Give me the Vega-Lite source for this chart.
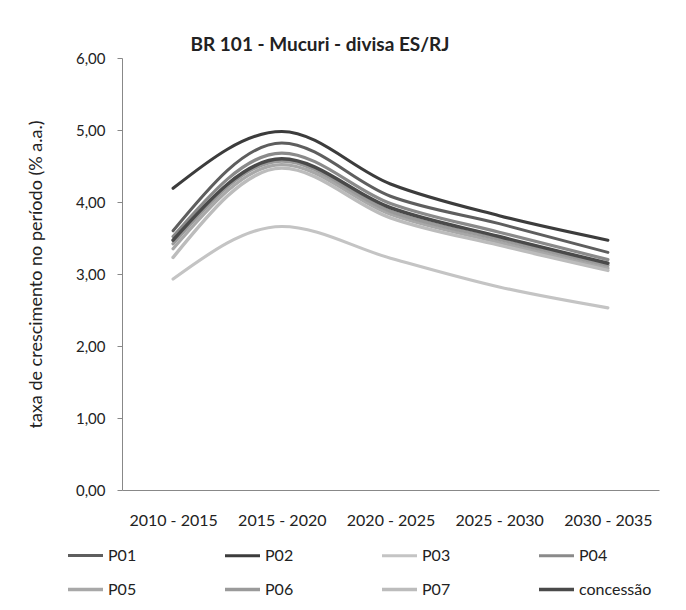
{
  "$schema": "https://vega.github.io/schema/vega-lite/v6.json",
  "width": 537,
  "height": 432,
  "autosize": "none",
  "padding": {"left": 122, "top": 58, "right": 27, "bottom": 120},
  "background": "white",
  "config": {
    "locale": {"number": {"decimal": ",", "thousands": ".", "grouping": [3], "currency": ["R$", ""]}},
    "font": "Lato",
    "view": {"stroke": null}
  },
  "title": {
    "text": "BR 101 - Mucuri - divisa ES/RJ",
    "anchor": "start",
    "dx": 163,
    "offset": -4,
    "fontSize": 19,
    "fontWeight": "bold",
    "color": "#222",
    "font": "Lato"
  },
  "data": {
    "values": [
      {"periodo": "2010 - 2015", "serie": "P01", "taxa": 3.60},
      {"periodo": "2015 - 2020", "serie": "P01", "taxa": 4.82},
      {"periodo": "2020 - 2025", "serie": "P01", "taxa": 4.08},
      {"periodo": "2025 - 2030", "serie": "P01", "taxa": 3.70},
      {"periodo": "2030 - 2035", "serie": "P01", "taxa": 3.30},
      {"periodo": "2010 - 2015", "serie": "P02", "taxa": 4.19},
      {"periodo": "2015 - 2020", "serie": "P02", "taxa": 4.98},
      {"periodo": "2020 - 2025", "serie": "P02", "taxa": 4.25},
      {"periodo": "2025 - 2030", "serie": "P02", "taxa": 3.81},
      {"periodo": "2030 - 2035", "serie": "P02", "taxa": 3.47},
      {"periodo": "2010 - 2015", "serie": "P03", "taxa": 2.93},
      {"periodo": "2015 - 2020", "serie": "P03", "taxa": 3.66},
      {"periodo": "2020 - 2025", "serie": "P03", "taxa": 3.22},
      {"periodo": "2025 - 2030", "serie": "P03", "taxa": 2.82},
      {"periodo": "2030 - 2035", "serie": "P03", "taxa": 2.53},
      {"periodo": "2010 - 2015", "serie": "P04", "taxa": 3.52},
      {"periodo": "2015 - 2020", "serie": "P04", "taxa": 4.68},
      {"periodo": "2020 - 2025", "serie": "P04", "taxa": 3.98},
      {"periodo": "2025 - 2030", "serie": "P04", "taxa": 3.58},
      {"periodo": "2030 - 2035", "serie": "P04", "taxa": 3.20},
      {"periodo": "2010 - 2015", "serie": "P05", "taxa": 3.35},
      {"periodo": "2015 - 2020", "serie": "P05", "taxa": 4.52},
      {"periodo": "2020 - 2025", "serie": "P05", "taxa": 3.83},
      {"periodo": "2025 - 2030", "serie": "P05", "taxa": 3.44},
      {"periodo": "2030 - 2035", "serie": "P05", "taxa": 3.08},
      {"periodo": "2010 - 2015", "serie": "P06", "taxa": 3.42},
      {"periodo": "2015 - 2020", "serie": "P06", "taxa": 4.57},
      {"periodo": "2020 - 2025", "serie": "P06", "taxa": 3.87},
      {"periodo": "2025 - 2030", "serie": "P06", "taxa": 3.48},
      {"periodo": "2030 - 2035", "serie": "P06", "taxa": 3.12},
      {"periodo": "2010 - 2015", "serie": "P07", "taxa": 3.23},
      {"periodo": "2015 - 2020", "serie": "P07", "taxa": 4.47},
      {"periodo": "2020 - 2025", "serie": "P07", "taxa": 3.78},
      {"periodo": "2025 - 2030", "serie": "P07", "taxa": 3.40},
      {"periodo": "2030 - 2035", "serie": "P07", "taxa": 3.05},
      {"periodo": "2010 - 2015", "serie": "concessão", "taxa": 3.47},
      {"periodo": "2015 - 2020", "serie": "concessão", "taxa": 4.60},
      {"periodo": "2020 - 2025", "serie": "concessão", "taxa": 3.92},
      {"periodo": "2025 - 2030", "serie": "concessão", "taxa": 3.52},
      {"periodo": "2030 - 2035", "serie": "concessão", "taxa": 3.15}
    ]
  },
  "mark": {"type": "line", "interpolate": "monotone", "strokeCap": "round"},
  "encoding": {
    "x": {
      "field": "periodo",
      "type": "ordinal",
      "sort": null,
      "scale": {"type": "point", "padding": 0.47},
      "axis": {
        "title": null,
        "labelAngle": 0,
        "ticks": false,
        "labelPadding": 22,
        "labelFontSize": 16,
        "labelColor": "#222",
        "domainColor": "#888",
        "grid": false
      }
    },
    "y": {
      "field": "taxa",
      "type": "quantitative",
      "scale": {"domain": [0, 6], "nice": false},
      "axis": {
        "values": [0, 1, 2, 3, 4, 5, 6],
        "format": ".2f",
        "title": "taxa de crescimento no período (% a.a.)",
        "titleFontSize": 18,
        "titleFontWeight": "normal",
        "titleColor": "#222",
        "titlePadding": 30,
        "labelFontSize": 15,
        "labelColor": "#222",
        "labelPadding": 12,
        "tickSize": 5,
        "tickColor": "#888",
        "domainColor": "#888",
        "grid": false
      }
    },
    "color": {
      "field": "serie",
      "type": "nominal",
      "sort": ["P01", "P02", "P03", "P04", "P05", "P06", "P07", "concessão"],
      "scale": {
        "domain": ["P01", "P02", "P03", "P04", "P05", "P06", "P07", "concessão"],
        "range": ["#5e5e5e", "#3c3c3c", "#c4c4c4", "#8a8a8a", "#a8a8a8", "#9a9a9a", "#bcbcbc", "#4a4a4a"]
      },
      "legend": {
        "title": null,
        "orient": "none",
        "legendX": -56,
        "legendY": 478,
        "direction": "horizontal",
        "columns": 4,
        "gridAlign": "all",
        "columnPadding": 37,
        "rowPadding": 6,
        "symbolType": "stroke",
        "symbolSize": 1225,
        "labelFontSize": 16,
        "labelColor": "#222",
        "labelOffset": 3,
        "encode": {
          "symbols": {
            "update": {
              "strokeWidth": {"signal": "datum.value === 'concessão' ? 7 : 3"}
            }
          }
        }
      }
    },
    "strokeWidth": {
      "field": "serie",
      "type": "nominal",
      "scale": {
        "domain": ["P01", "P02", "P03", "P04", "P05", "P06", "P07", "concessão"],
        "range": [3, 3.5, 3, 3, 3, 3, 3, 6]
      },
      "legend": null
    },
    "order": {"field": "serie"}
  }
}
